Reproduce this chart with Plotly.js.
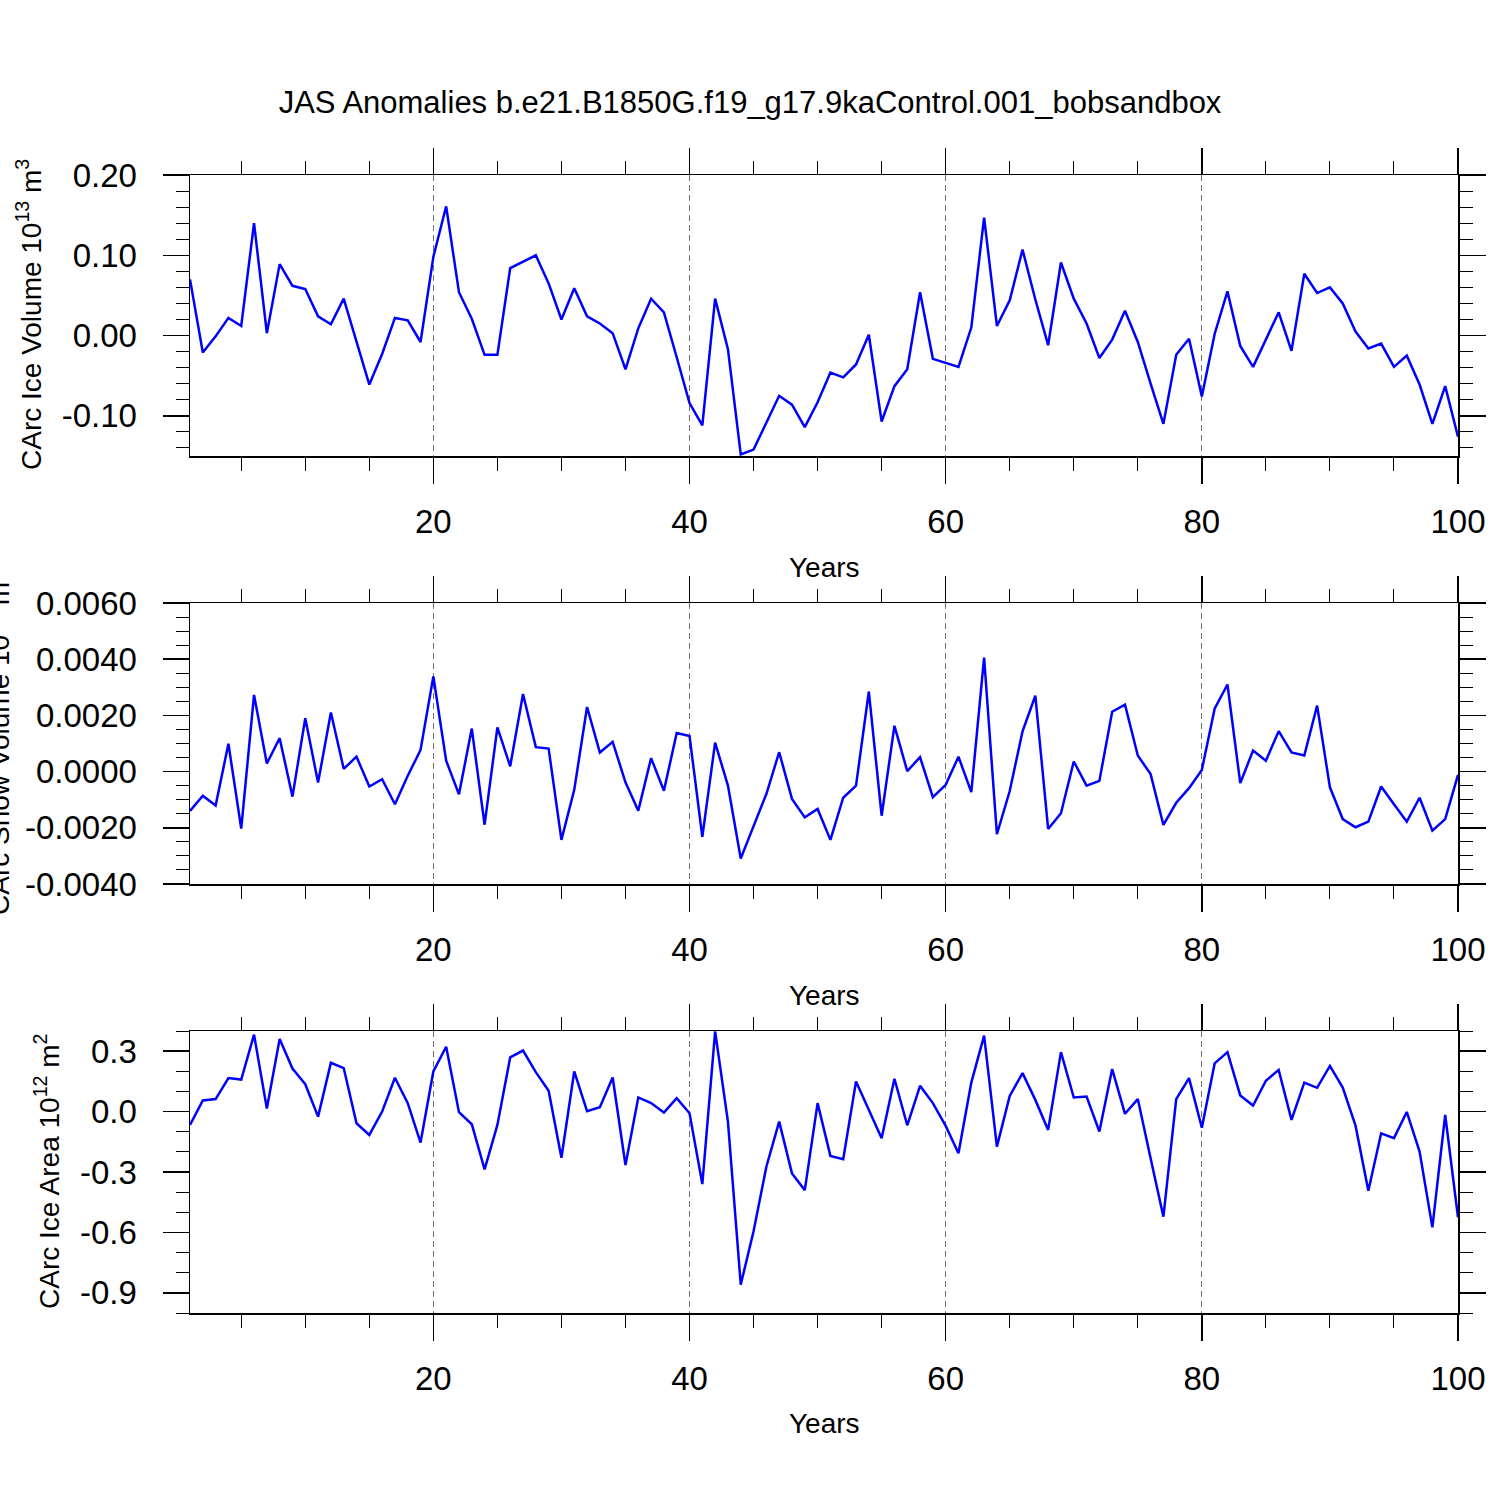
<!DOCTYPE html>
<html>
<head>
<meta charset="utf-8">
<script src="https://cdn.plot.ly/plotly-3.0.1.min.js"></script>
<style>html,body{margin:0;padding:0;background:#fff;}#chart{width:1500px;height:1500px;}</style>
</head>
<body>
<div id="chart"></div>
<script>
// ---------------- DATA ----------------
const years = [1,2,3,4,5,6,7,8,9,10,11,12,13,14,15,16,17,18,19,20,
  21,22,23,24,25,26,27,28,29,30,31,32,33,34,35,36,37,38,39,40,
  41,42,43,44,45,46,47,48,49,50,51,52,53,54,55,56,57,58,59,60,
  61,62,63,64,65,66,67,68,69,70,71,72,73,74,75,76,77,78,79,80,
  81,82,83,84,85,86,87,88,89,90,91,92,93,94,95,96,97,98,99,100];

const iceVolume = [0.070, -0.021, -0.001, 0.022, 0.012, 0.140, 0.003, 0.089, 0.062, 0.058,
  0.024, 0.014, 0.046, -0.006, -0.061, -0.023, 0.022, 0.019, -0.008, 0.098,
  0.161, 0.054, 0.021, -0.024, -0.024, 0.084, 0.092, 0.100, 0.065, 0.020,
  0.059, 0.024, 0.015, 0.003, -0.042, 0.009, 0.046, 0.029, -0.027, -0.084,
  -0.112, 0.046, -0.017, -0.148, -0.142, -0.109, -0.075, -0.086, -0.114, -0.083,
  -0.046, -0.052, -0.036, 0.001, -0.107, -0.063, -0.042, 0.054, -0.029, -0.034,
  -0.039, 0.010, 0.147, 0.012, 0.044, 0.107, 0.045, -0.012, 0.091, 0.046,
  0.015, -0.028, -0.005, 0.031, -0.008, -0.060, -0.110, -0.024, -0.004, -0.076,
  0.002, 0.055, -0.013, -0.039, -0.004, 0.029, -0.019, 0.077, 0.053, 0.060,
  0.040, 0.005, -0.016, -0.010, -0.039, -0.025, -0.061, -0.110, -0.063, -0.126];

const snowVolume = [-0.00140, -0.00086, -0.00121, 0.00099, -0.00203, 0.00273, 0.00029, 0.00119, -0.00089, 0.00190,
  -0.00039, 0.00210, 0.00010, 0.00053, -0.00053, -0.00027, -0.00116, -0.00015, 0.00077, 0.00339,
  0.00039, -0.00081, 0.00153, -0.00189, 0.00157, 0.00019, 0.00276, 0.00087, 0.00082, -0.00243,
  -0.00065, 0.00230, 0.00068, 0.00106, -0.00038, -0.00139, 0.00048, -0.00068, 0.00137, 0.00127,
  -0.00232, 0.00103, -0.00050, -0.00309, -0.00194, -0.00080, 0.00069, -0.00097, -0.00163, -0.00133,
  -0.00243, -0.00093, -0.00050, 0.00285, -0.00157, 0.00163, 0.00002, 0.00051, -0.00091, -0.00047,
  0.00053, -0.00073, 0.00406, -0.00223, -0.00069, 0.00143, 0.00270, -0.00204, -0.00148, 0.00036,
  -0.00050, -0.00033, 0.00213, 0.00238, 0.00057, -0.00009, -0.00190, -0.00111, -0.00059, 0.00006,
  0.00224, 0.00310, -0.00041, 0.00075, 0.00039, 0.00144, 0.00068, 0.00057, 0.00235, -0.00056,
  -0.00169, -0.00198, -0.00178, -0.00053, -0.00116, -0.00178, -0.00093, -0.00210, -0.00169, -0.00012];

const iceArea = [-0.066, 0.055, 0.062, 0.166, 0.159, 0.382, 0.015, 0.360, 0.214, 0.136,
  -0.025, 0.242, 0.216, -0.058, -0.116, 0.000, 0.168, 0.042, -0.154, 0.199,
  0.322, -0.003, -0.063, -0.287, -0.066, 0.269, 0.303, 0.196, 0.103, -0.229,
  0.199, 0.002, 0.022, 0.169, -0.265, 0.070, 0.042, -0.005, 0.067, -0.008,
  -0.360, 0.398, -0.050, -0.859, -0.594, -0.274, -0.050, -0.307, -0.390, 0.042,
  -0.220, -0.237, 0.149, 0.005, -0.132, 0.163, -0.068, 0.128, 0.042, -0.071,
  -0.207, 0.144, 0.377, -0.174, 0.078, 0.191, 0.058, -0.091, 0.295, 0.070,
  0.075, -0.099, 0.211, -0.011, 0.062, -0.232, -0.522, 0.062, 0.166, -0.080,
  0.239, 0.295, 0.080, 0.030, 0.153, 0.207, -0.041, 0.144, 0.118, 0.227,
  0.119, -0.070, -0.393, -0.108, -0.132, -0.002, -0.199, -0.575, -0.017, -0.525];

const xTickVals = [20, 40, 60, 80, 100];
const xTickText = ["20", "40", "60", "80", "100"];
const y1TickVals = [0.2, 0.1, 0.0, -0.1];
const y1TickText = ["0.20", "0.10", "0.00", "-0.10"];
const y2TickVals = [0.006, 0.004, 0.002, 0.0, -0.002, -0.004];
const y2TickText = ["0.0060", "0.0040", "0.0020", "0.0000", "-0.0020", "-0.0040"];
const y3TickVals = [0.3, 0.0, -0.3, -0.6, -0.9];
const y3TickText = ["0.3", "0.0", "-0.3", "-0.6", "-0.9"];

const titleText = "JAS Anomalies b.e21.B1850G.f19_g17.9kaControl.001_bobsandbox";
const xTitle = "Years";
const y1Title = "CArc Ice Volume 10<sup>13</sup> m<sup>3</sup>";
const y2Title = "CArc Snow Volume 10<sup>13</sup> m<sup>3</sup>";
const y3Title = "CArc Ice Area 10<sup>12</sup> m<sup>2</sup>";

// ---------------- LAYOUT ----------------
const W = 1500, H = 1500, ML = 190, MR = 42;
const PW = W - ML - MR;
const FONT = "Liberation Sans, Arial, Helvetica, sans-serif";
const px = p => (p - ML) / PW;       // pixel x -> paper x
const py = p => 1 - p / H;           // pixel y -> paper y

const panels = [
  {top: 175, bottom: 456},
  {top: 603, bottom: 884},
  {top: 1031, bottom: 1313}
];

function xAxis(anchor, p) {
  return {
    anchor: anchor,
    domain: [0, 1],
    range: [1, 100],
    tickmode: 'array', tickvals: xTickVals, ticktext: xTickText,
    ticks: 'outside', ticklen: 26, tickwidth: 1.5, tickcolor: '#000',
    showline: true, linecolor: '#000', linewidth: 1.5, mirror: 'ticks',
    showgrid: true, gridcolor: '#707070', gridwidth: 1, griddash: '6px,4px',
    zeroline: false,
    tickfont: {family: FONT, size: 33, color: '#000'},
    ticklabelstandoff: 10,
    minor: {tickmode: 'linear', tick0: 0, dtick: 5, ticks: 'outside', ticklen: 13,
            tickwidth: 1, tickcolor: '#000', showgrid: false},
    automargin: false, fixedrange: true
  };
}
function yAxis(anchor, p, range, tv, tt, minorDt) {
  return {
    anchor: anchor,
    domain: [py(p.bottom), py(p.top)],
    range: range,
    tickmode: 'array', tickvals: tv, ticktext: tt,
    ticks: 'outside', ticklen: 26, tickwidth: 1.5, tickcolor: '#000',
    showline: true, linecolor: '#000', linewidth: 1.5, mirror: 'ticks',
    showgrid: false, zeroline: false,
    tickfont: {family: FONT, size: 33, color: '#000'},
    ticklabelstandoff: 19,
    minor: {tickmode: 'linear', tick0: 0, dtick: minorDt, ticks: 'outside', ticklen: 13,
            tickwidth: 1, tickcolor: '#000', showgrid: false},
    automargin: false, fixedrange: true
  };
}

const lineStyle = {color: '#0000ff', width: 2.5};
const data = [
  {x: years, y: iceVolume, type: 'scatter', mode: 'lines', line: lineStyle, xaxis: 'x', yaxis: 'y', showlegend: false},
  {x: years, y: snowVolume, type: 'scatter', mode: 'lines', line: lineStyle, xaxis: 'x2', yaxis: 'y2', showlegend: false},
  {x: years, y: iceArea, type: 'scatter', mode: 'lines', line: lineStyle, xaxis: 'x3', yaxis: 'y3', showlegend: false}
];

const annFont = {family: FONT, size: 28, color: '#000'};
function xTitleAnn(yPix) {
  return {text: xTitle, xref: 'paper', yref: 'paper', x: px(824), y: py(yPix),
          xanchor: 'center', yanchor: 'middle', showarrow: false, font: annFont};
}
function yTitleAnn(text, xPix, yPix) {
  return {text: text, xref: 'paper', yref: 'paper', x: px(xPix), y: py(yPix),
          xanchor: 'center', yanchor: 'middle', textangle: -90, showarrow: false, font: annFont};
}

const layout = {
  width: W, height: H,
  margin: {l: ML, r: MR, t: 0, b: 0, pad: 0},
  paper_bgcolor: '#fff', plot_bgcolor: '#fff',
  font: {family: FONT, color: '#000'},
  title: {text: titleText, xref: 'container', yref: 'container', x: 0.5, y: py(102),
          xanchor: 'center', yanchor: 'middle', font: {family: FONT, size: 31, color: '#000'}},
  xaxis: xAxis('y', panels[0]),
  xaxis2: xAxis('y2', panels[1]),
  xaxis3: xAxis('y3', panels[2]),
  yaxis: yAxis('x', panels[0], [-0.15, 0.2], y1TickVals, y1TickText, 0.02),
  yaxis2: yAxis('x2', panels[1], [-0.004, 0.006], y2TickVals, y2TickText, 0.0005),
  yaxis3: yAxis('x3', panels[2], [-1.0, 0.4], y3TickVals, y3TickText, 0.1),
  annotations: [
    xTitleAnn(567), xTitleAnn(995), xTitleAnn(1423),
    yTitleAnn(y1Title, 29, 315),
    yTitleAnn(y2Title, -3, 743),
    yTitleAnn(y3Title, 47, 1172)
  ],
  showlegend: false
};

Plotly.newPlot('chart', data, layout, {staticPlot: true, displayModeBar: false});
</script>
</body>
</html>
